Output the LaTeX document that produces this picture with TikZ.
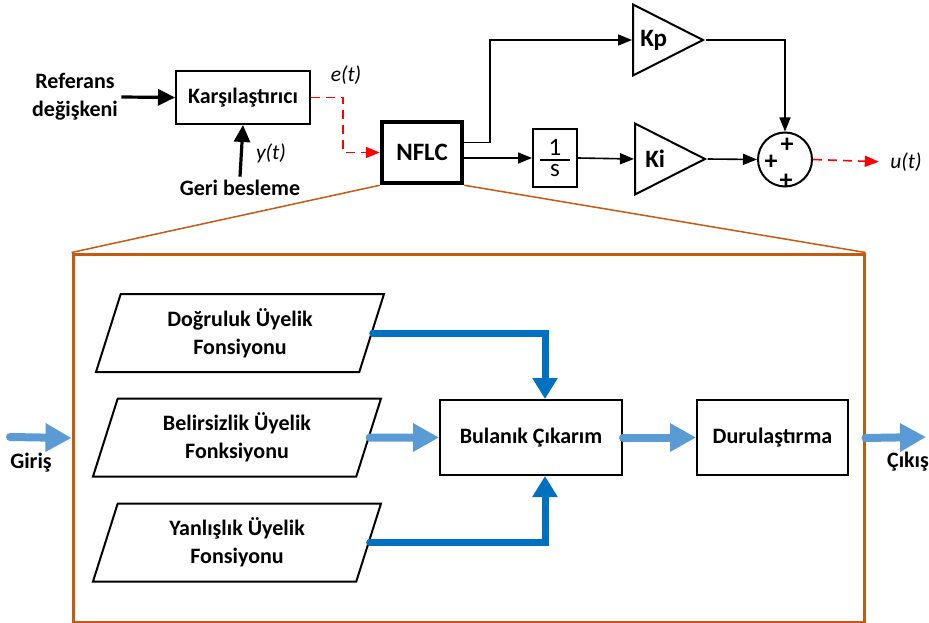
\documentclass[tikz,border=0pt]{standalone}
\usepackage{fontspec}
\setmainfont{Carlito}
\usepackage{tikz}
\usetikzlibrary{shapes.geometric,arrows.meta,positioning,calc}
\definecolor{sigred}{HTML}{FF0000}
\definecolor{zoombrown}{HTML}{C55A11}
\definecolor{rulblue}{HTML}{0070C0}
\definecolor{flowblue}{HTML}{5B9BD5}

\begin{document}
\begin{tikzpicture}[x=1pt, y=-1pt,
    font=\fontsize{22}{28}\selectfont\bfseries,
    blk/.style={rectangle, draw, line width=2pt, inner sep=2pt},
    gain/.style={isosceles triangle, isosceles triangle stretches, draw, line width=2pt, minimum width=71, minimum height=70, inner sep=0pt, font=\fontsize{25}{28}\selectfont\bfseries},
    memb/.style={trapezium, trapezium left angle=63.4, trapezium right angle=116.6, trapezium stretches body, draw, line width=2pt, minimum width=288, minimum height=78, align=center, inner sep=0pt},
    lbl/.style={font=\fontsize{21.5}{24}\selectfont\itshape},
    plus/.style={font=\fontsize{26}{26}\selectfont\bfseries, inner sep=0pt},
    sig/.style={line width=1.6pt, -{Triangle[length=14pt,width=11pt]}},
    thicksig/.style={line width=3.2pt, -{Triangle[length=17pt,width=16pt]}},
    errsig/.style={line width=1.6pt, sigred, dash pattern=on 9pt off 6pt, -{Triangle[length=14pt,width=11pt]}},
    flow/.style={line width=8pt, flowblue, line cap=round, -{Triangle[length=26pt,width=27pt]}},
    rulearrow/.style={line width=7pt, rulblue, line cap=round, -{Triangle[length=21pt,width=24pt]}}
]
    \useasboundingbox (0,0) rectangle (929,623);

    % controller
    \node[blk, minimum width=134, minimum height=53] (cmp) at (243,97.5) {Karşılaştırıcı};
    \node[align=center] (ref) at (75,97) {Referans\\değişkeni};
    \node (geri) at (240,188) {Geri besleme};
    \node[lbl] (yt) at (271,153) {y(t)};
    \node[lbl] (et) at (346,75) {e(t)};
    \node[blk, line width=4.5pt, minimum width=80, minimum height=61, font=\fontsize{25}{28}\selectfont\bfseries] (nflc) at (422,152.5) {NFLC};
    \node[blk, minimum width=44, minimum height=57, inner sep=0pt, font=\fontsize{25}{28}\selectfont] (integ) at (555,158) {\vbox{\hbox to 30pt{\hss 1\hss}\kern4pt\hrule height 1.6pt\kern4pt\hbox to 30pt{\hss s\hss}}};
    \node[gain, anchor=lower side] (kp) at (632,40) {Kp};
    \node[gain, anchor=lower side] (ki) at (634,159) {Ki};
    \node[circle, draw, line width=2pt, minimum size=54, inner sep=0pt] (sum) at (785,159.5) {};
    \node[plus] (ptop) at (787,145) {+};
    \node[plus] (pleft) at (771,162) {+};
    \node[plus] (pbot) at (786,181) {+};
    \node[lbl] (ut) at (906,162) {u(t)};

    \draw[thicksig] (ref.east) -- (cmp.west);
    \draw[thicksig] (geri.north) -- (cmp.south);
    \draw[errsig] (cmp.east) -- ++(32,0) |- (nflc.west);
    \draw[sig] ($(nflc.east)+(0,-10)$) -- ++(26,0) |- (kp.lower side);
    \draw[sig] (nflc.east |- integ.west) -- (integ.west);
    \draw[sig] (integ.east) -- (ki.lower side);
    \draw[sig] (kp.apex) -| (sum.north);
    \draw[sig] (ki.apex) -- (sum.west);
    \draw[errsig, shorten >=8pt] (sum.east) -- (ut.west);

    % NFLC detail
    \node[draw=zoombrown, line width=3pt, minimum width=791, minimum height=368, inner sep=0pt] (zoom) at (468.5,438) {};
    \draw[zoombrown, line width=1.5pt] (nflc.south west) -- (zoom.north west);
    \draw[zoombrown, line width=1.5pt] (nflc.south east) -- (zoom.north east);

    \node[memb] (dog) at (240,333) {Doğruluk Üyelik\\Fonsiyonu};
    \node[memb] (bel) at (237,437.5) {Belirsizlik Üyelik\\Fonksiyonu};
    \node[memb] (yan) at (237,542.5) {Yanlışlık Üyelik\\Fonsiyonu};
    \node[blk, minimum width=182, minimum height=75] (bul) at (531,437.5) {Bulanık Çıkarım};
    \node[blk, minimum width=151, minimum height=75] (dur) at (772.5,437.5) {Durulaştırma};

    \coordinate (in) at (10,437);
    \coordinate (out) at (926,437);
    \node (giris) at (31,463) {Giriş};
    \node (cikis) at (908,462) {Çıkış};

    \draw[flow] (in) -- (zoom.west);
    \draw[flow] (bel.east) -- (bul.west);
    \draw[flow] (bul.east) -- (dur.west);
    \draw[flow] (zoom.east) -- (out);
    \draw[rulearrow] (dog.east) -| ([xshift=14pt]bul.north);
    \draw[rulearrow] (yan.east) -| ([xshift=14pt]bul.south);
\end{tikzpicture}
\end{document}
